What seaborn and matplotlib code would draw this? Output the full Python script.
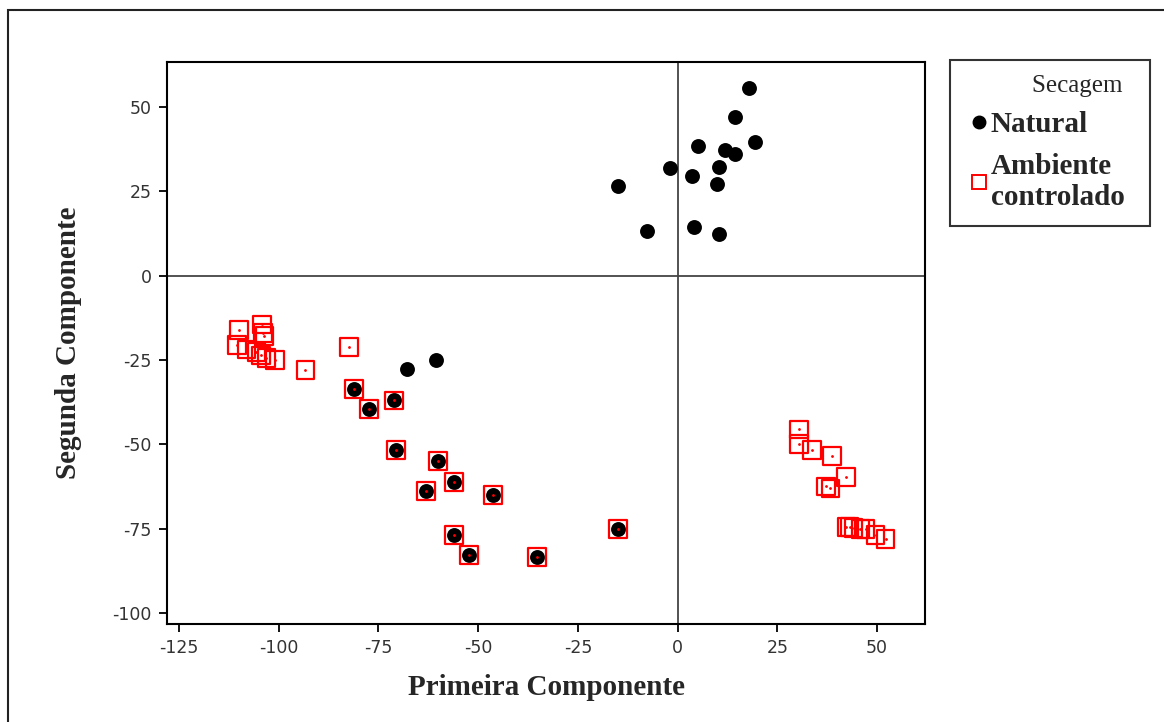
import numpy as np
import pandas as pd
import matplotlib
matplotlib.use("Agg")
import matplotlib.pyplot as plt
from matplotlib.lines import Line2D
from matplotlib.patches import Rectangle
import seaborn as sns

# Secagem natural (pontos pretos)
nat_x = [17.8, 14.3, 19.3, 5.0, 11.8, 14.3, -1.8, 10.4, 3.5, 9.9, -14.9, -7.8, 4.0, 10.4,
         -67.8, -60.6,
         -81.1, -77.3, -71.1, -70.6, -60.1, -63.1, -56.1, -46.3, -56.1, -52.3, -35.3, -15.0]
nat_y = [55.6, 47.0, 39.6, 38.5, 37.3, 36.1, 32.0, 32.2, 29.6, 27.2, 26.6, 13.3, 14.5, 12.4,
         -27.8, -25.1,
         -33.7, -39.6, -37.0, -51.8, -55.0, -63.9, -61.2, -65.1, -76.9, -82.8, -83.4, -75.1]

# Secagem em ambiente controlado (quadrados vermelhos)
amb_x = [-109.9, -104.2, -110.4, -104.0, -103.6, -108.1, -105.6, -104.4, -103.1, -100.9,
         -93.3, -82.4,
         -81.1, -77.3, -71.1, -70.6, -60.1, -63.1, -56.1, -46.3, -56.1, -52.3, -35.3, -15.0,
         30.4, 30.4, 33.7, 38.7, 42.2, 37.2, 38.3, 42.3, 43.1, 44.1, 45.8, 47.1, 49.6, 52.1]
amb_y = [-16.2, -14.5, -20.6, -17.0, -18.0, -21.9, -22.7, -23.7, -24.4, -25.1,
         -28.0, -21.2,
         -33.7, -39.6, -37.0, -51.8, -55.0, -63.9, -61.2, -65.1, -76.9, -82.8, -83.4, -75.1,
         -45.6, -50.0, -51.7, -53.5, -59.7, -62.5, -63.1, -74.6, -74.6, -74.9, -75.1, -75.1, -76.9, -78.1]

x_ticks = [-125, -100, -75, -50, -25, 0, 25, 50]
y_ticks = [50, 25, 0, -25, -50, -75, -100]

nat = pd.DataFrame({"x": nat_x, "y": nat_y})
amb = pd.DataFrame({"x": amb_x, "y": amb_y})

sns.set_style("white")
plt.rcParams["font.family"] = ["Liberation Serif", "DejaVu Serif"]
plt.rcParams["axes.unicode_minus"] = False

fig = plt.figure(figsize=(11.64, 7.22), dpi=100)
ax = fig.add_axes([167 / 1164, 1 - 624 / 722, (925 - 167) / 1164, (624 - 62) / 722])

ax.axhline(0, color="#444444", lw=1.3, zorder=1)
ax.axvline(0, color="#444444", lw=1.3, zorder=1)

sns.scatterplot(data=nat, x="x", y="y", ax=ax, marker="o", s=115, color="black",
                edgecolor="black", linewidth=0, zorder=3, legend=False)
sns.scatterplot(data=amb, x="x", y="y", ax=ax, marker="s", s=160, facecolor="none",
                edgecolor="red", linewidth=1.6, zorder=4, legend=False)
sns.scatterplot(data=amb, x="x", y="y", ax=ax, marker="o", s=4, color="red",
                linewidth=0, zorder=5, legend=False)

ax.set_xlim(-128, 62)
ax.set_ylim(-103.3, 63.3)
ax.set_xticks(x_ticks)
ax.set_yticks(y_ticks)
for lab in ax.get_xticklabels() + ax.get_yticklabels():
    lab.set_family(["DejaVu Sans"])
    lab.set_fontsize(12.5)
ax.tick_params(axis="both", direction="out", length=6, width=1.3, color="black",
               bottom=True, left=True, pad=5, labelcolor="#333333")
for sp in ax.spines.values():
    sp.set_color("black")
    sp.set_linewidth(1.5)

ax.set_xlabel("Primeira Componente", fontsize=21, fontweight="bold", labelpad=12)
ax.set_ylabel("Segunda Componente", fontsize=21, fontweight="bold", labelpad=22)

handles = [
    Line2D([], [], marker="o", ls="none", color="black", markersize=9),
    Line2D([], [], marker="s", ls="none", markerfacecolor="none", markeredgecolor="red",
           markeredgewidth=1.4, markersize=10),
]
leg = fig.legend(handles, ["Natural", "Ambiente\ncontrolado"], title="Secagem  ",
                 loc="upper left",
                 bbox_to_anchor=(950 / 1164, 1 - 229 / 722, 200 / 1164, 169 / 722),
                 mode="expand",
                 frameon=True, fancybox=False, handlelength=1.0, handletextpad=-0.1,
                 borderpad=0.5, labelspacing=0.5, borderaxespad=0,
                 prop={"family": ["Liberation Serif"], "weight": "bold", "size": 21},
                 title_fontproperties={"family": ["Liberation Serif"], "size": 18})
leg.get_frame().set_edgecolor("black")
leg.get_frame().set_linewidth(1.5)
leg._legend_box.align = "right"

# moldura externa
fig.add_artist(Rectangle((8 / 1164, -0.1), 1.2, 1 - 10 / 722 + 0.1, transform=fig.transFigure,
                         fill=False, edgecolor="#222222", lw=1.5))

fig.savefig("out.png", dpi=100)
